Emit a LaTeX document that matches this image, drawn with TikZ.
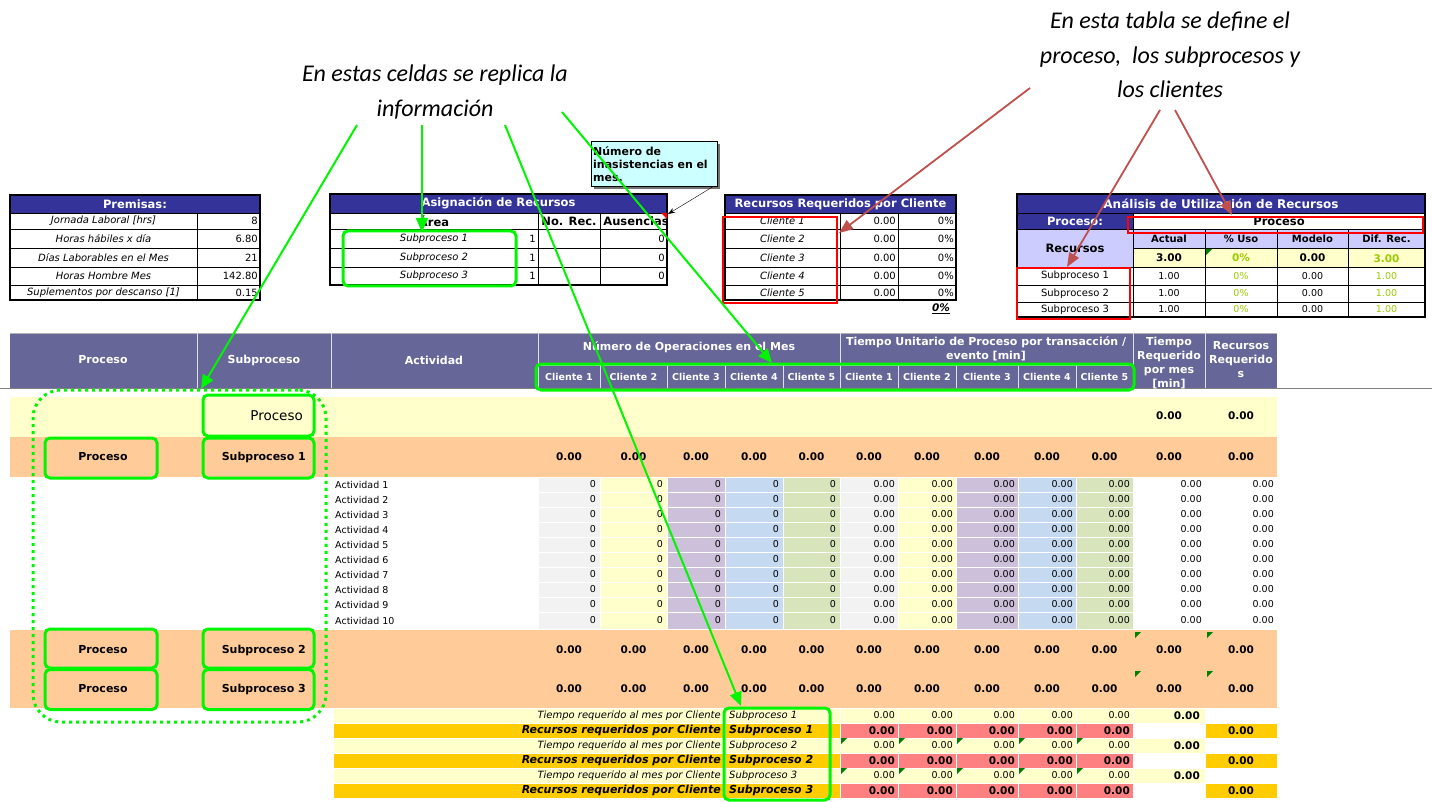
\documentclass[tikz,border=0pt]{standalone}
\usepackage{fontspec}
\setmainfont{DejaVu Sans}
\newfontfamily\calfont{Carlito}
\usetikzlibrary{arrows.meta}
\definecolor{grn}{RGB}{0,245,0}
\definecolor{hdrblue}{RGB}{51,51,153}
\definecolor{hdrpurple}{RGB}{102,102,153}
\definecolor{lyel}{RGB}{255,255,204}
\definecolor{orng}{RGB}{255,204,153}
\definecolor{gold}{RGB}{255,204,0}
\definecolor{pinkr}{RGB}{255,128,128}
\definecolor{cgray}{RGB}{242,242,242}
\definecolor{cpurp}{RGB}{204,192,218}
\definecolor{cblue}{RGB}{197,217,241}
\definecolor{cgreen}{RGB}{216,228,188}
\definecolor{lav}{RGB}{204,204,255}
\definecolor{lgreen}{RGB}{153,204,0}
\definecolor{redarrow}{RGB}{192,80,77}
\definecolor{callout}{RGB}{204,255,255}
\definecolor{cmark}{RGB}{0,128,0}
\begin{document}
\begin{tikzpicture}[x=1pt,y=-1pt,
  txt/.style={font=\fontsize{9.5}{10}\selectfont, inner sep=0pt},
  atx/.style={font=\fontsize{10}{11}\selectfont, inner sep=0pt},
  itx/.style={font=\fontsize{10}{11}\selectfont\itshape, inner sep=0pt},
  bnum/.style={font=\fontsize{10.5}{11}\selectfont\bfseries, inner sep=0pt},
  blab/.style={font=\fontsize{11}{12}\selectfont\bfseries, inner sep=0pt},
  bh/.style={font=\fontsize{10}{11}\selectfont\bfseries, inner sep=0pt},
  bha/.style={font=\fontsize{11.5}{12}\selectfont\bfseries, inner sep=0pt},
  hdr/.style={font=\fontsize{11.5}{12}\selectfont\bfseries, text=white, inner sep=0pt},
  lh/.style={font=\fontsize{11}{14}\selectfont\bfseries, text=white, inner sep=0pt, align=center},
  ch/.style={font=\fontsize{9.5}{10}\selectfont\bfseries, text=white, inner sep=0pt},
  gbox/.style={draw=grn, line width=3pt, rounded corners=5pt, inner sep=0pt},
  rbox/.style={draw=red, line width=2.5pt, inner sep=0pt},
  garrow/.style={draw=grn, line width=2pt, -{Triangle[length=14pt,width=12pt]}},
  rarrow/.style={draw=redarrow, line width=1.8pt, -{Triangle[length=14pt,width=11pt]}},
  note/.style={font=\calfont\itshape\fontsize{24}{34.5}\selectfont, align=center, inner sep=0pt},
  cellw/.style={draw=white, line width=1pt}
]
\useasboundingbox (0,0) rectangle (1432,802);
\fill[white] (0,0) rectangle (1432,802);

%%%%%%%% Premisas
\fill[hdrblue] (10,195) rectangle (260,213);
\node[hdr] at (135,204) {Premisas:};
\foreach \yy in {213,229,248,267,285} \draw[thin] (10,\yy) -- (260,\yy);
\draw[thin] (197,213) -- (197,300);
\draw[line width=1.5pt] (10,195) rectangle (260,300);
\foreach \lab/\val/\yy in {Jornada Laboral [hrs]/8/221, Horas hábiles x día/6.80/238.5, Días Laborables en el Mes/21/257.5, Horas Hombre Mes/142.80/276, Suplementos por descanso [1]/0.15/292.5}
  {\node[itx] at (103.5,\yy) {\lab}; \node[atx,anchor=east] at (258,\yy) {\val};}

%%%%%%%% Asignacion
\fill[hdrblue] (330,194) rectangle (667,213);
\node[hdr] at (498.5,203.5) {Asignación de Recursos};
\foreach \yy in {213,229,248,267} \draw[thin] (330,\yy) -- (667,\yy);
\draw[thin] (538,213) -- (538,285) (600,213) -- (600,285);
\draw[line width=1.5pt] (330,194) rectangle (667,285);
\node[bha] at (434,221) {Área};
\node[bha] at (569,221) {No. Rec.};
\node[bha] at (636,221) {Ausencias};
\foreach \sn/\yy in {1/238.5,2/257.5,3/276}
  {\node[itx] at (434,\yy) {Subproceso \sn}; \node[atx,anchor=east] at (536,\yy) {1}; \node[atx,anchor=east] at (665,\yy) {0};}
\fill[red] (661,213) -- (667,213) -- (667,219) -- cycle;

%%%%%%%% Recursos requeridos por cliente
\fill[hdrblue] (725,195) rectangle (956,213);
\node[hdr] at (840.5,204) {Recursos Requeridos por Cliente};
\foreach \yy in {213,229,248,267,285} \draw[thin] (725,\yy) -- (956,\yy);
\draw[thin] (840,213) -- (840,300) (898,213) -- (898,300);
\draw[line width=1.5pt] (725,195) rectangle (956,300);
\foreach \sn/\yy in {1/221,2/238.5,3/257.5,4/276,5/292.5}
  {\node[itx] at (782.5,\yy) {Cliente \sn}; \node[atx,anchor=east] at (896,\yy) {0.00}; \node[atx,anchor=east] at (954,\yy) {0\%};}
\node[bnum,font=\fontsize{10.5}{11}\selectfont\bfseries\itshape] at (941,309) {\underline{0\%}};

%%%%%%%% Analisis
\fill[hdrblue] (1017,194) rectangle (1425,213);
\node[hdr,font=\fontsize{12}{12}\selectfont\bfseries] at (1221,203.5) {Análisis de Utilización de Recursos};
\fill[hdrblue] (1017,213) rectangle (1133,229);
\node[hdr] at (1075,221) {Proceso:};
\node[bha] at (1279,221) {Proceso};
\fill[lav] (1017,229) rectangle (1133,267);
\node[bha] at (1075,248) {Recursos};
\fill[lav] (1133,229) rectangle (1425,248);
\fill[lyel] (1133,248) rectangle (1425,267);
\foreach \yy in {213,229,267,285,302} \draw[thin] (1017,\yy) -- (1425,\yy);
\draw[thin] (1133,248) -- (1425,248);
\draw[thin] (1133,213) -- (1133,317);
\foreach \xx in {1205,1277,1348} \draw[thin] (\xx,229) -- (\xx,317);
\draw[line width=1.5pt] (1017,194) rectangle (1425,317);
\node[bh] at (1169,238.5) {Actual};
\node[bh] at (1241,238.5) {\% Uso};
\node[bh] at (1312.5,238.5) {Modelo};
\node[bh] at (1386.5,238.5) {Dif. Rec.};
\node[bnum] at (1169,257.5) {3.00};
\node[bnum,text=lgreen] at (1241,257.5) {0\%};
\node[bnum] at (1312.5,257.5) {0.00};
\node[bnum,text=lgreen] at (1386.5,258.5) {3.00};
\fill[cmark] (1206,249) -- (1212,249) -- (1206,255) -- cycle;
\foreach \sn/\yy in {1/276,2/293.5,3/309.5}
  {\node[atx] at (1075,\yy) {Subproceso \sn};
   \node[txt] at (1169,\yy) {1.00};
   \node[txt,text=lgreen] at (1241,\yy) {0\%};
   \node[txt] at (1312.5,\yy) {0.00};
   \node[txt,text=lgreen] at (1386.5,\yy) {1.00};}

%%%%%%%% Lower table header
\fill[hdrpurple] (10,333) rectangle (1277,388);
\draw[gray!60, line width=1pt] (10,333) -- (1277,333);
\begin{scope}[draw=white!80!hdrpurple, line width=0.8pt]
  \foreach \xx in {197,331,538,840,1133,1205} \draw (\xx,333) -- (\xx,388);
  \draw (538,365) -- (1133,365);
  \foreach \xx in {600,667,725,783,898,956,1018,1076} \draw (\xx,365) -- (\xx,388);
\end{scope}
\draw[gray, line width=1.2pt] (0,388.5) -- (1432,388.5);
\node[lh] at (103,360) {Proceso};
\node[lh] at (264,360) {Subproceso};
\node[lh] at (434,360) {Actividad};
\node[lh] at (689,347) {Número de Operaciones en el Mes};
\node[lh] at (986,349) {Tiempo Unitario de Proceso por transacción /\\evento [min]};
\begin{scope}
  \clip (1133,333) rectangle (1205,388);
  \node[lh,anchor=north] at (1169,337) {Tiempo\\Requerido\\por mes\\{[min]}};
\end{scope}
\node[lh] at (1241,360) {Recursos\\Requerido\\s};
\foreach \xx/\sn in {569/1,633.5/2,696/3,754/4,811.5/5,869/1,927/2,987/3,1047/4,1104.5/5}
  \node[ch] at (\xx,377) {Cliente \sn};

%%%%%%%% Proceso / Subproceso 1 rows
\fill[lyel] (10,397) rectangle (1277,437);
\fill[orng] (10,437) rectangle (1277,477);
\node[atx,font=\fontsize{13.5}{14}\selectfont,anchor=east] at (303,416) {Proceso};
\node[bnum] at (1169,416) {0.00};
\node[bnum] at (1241,416) {0.00};
\node[blab] at (103,457) {Proceso};
\node[blab,anchor=east] at (306,457) {Subproceso 1};
\foreach \xx in {569,633.5,696,754,811.5,869,927,987,1047,1104.5,1169,1241}
  \node[bnum] at (\xx,457) {0.00};

%%%%%%%% Activity rows
\foreach \r in {1,...,10} {
  \pgfmathsetmacro\ya{477+15*(\r-1)}
  \pgfmathsetmacro\yb{\r==10 ? 629 : \ya+15}
  \pgfmathsetmacro\ym{(\ya+\yb)/2}
  \node[txt,anchor=west] at (335,\ym) {Actividad \r};
  \foreach \xa/\xb/\cc in {538/600/cgray,600/667/lyel,667/725/cpurp,725/783/cblue,783/840/cgreen}
    {\filldraw[fill=\cc,cellw] (\xa,\ya) rectangle (\xb,\yb);
     \node[txt,anchor=east] at (\xb-4,\ym) {0};}
  \foreach \xa/\xb/\cc in {840/898/cgray,898/956/lyel,956/1018/cpurp,1018/1076/cblue,1076/1133/cgreen}
    {\filldraw[fill=\cc,cellw] (\xa,\ya) rectangle (\xb,\yb);
     \node[txt,anchor=east] at (\xb-3,\ym) {0.00};}
  \node[txt,anchor=east] at (1202,\ym) {0.00};
  \node[txt,anchor=east] at (1274,\ym) {0.00};
}

%%%%%%%% Subproceso 2 / 3 rows
\fill[orng] (10,630) rectangle (1277,708);
\foreach \sn/\yy in {2/650,3/689} {
  \node[blab] at (103,\yy) {Proceso};
  \node[blab,anchor=east] at (306,\yy) {Subproceso \sn};
  \foreach \xx in {569,633.5,696,754,811.5,869,927,987,1047,1104.5,1169,1241}
    \node[bnum] at (\xx,\yy) {0.00};
}
\foreach \xx/\yy in {1135/632,1207/632,1135/671,1207/671}
  \fill[cmark] (\xx,\yy) -- ++(6,0) -- ++(-6,6) -- cycle;

%%%%%%%% Bottom summary rows
\foreach \r/\sn in {0/1,1/2,2/3} {
  \pgfmathsetmacro\ya{708+30*\r}
  \pgfmathsetmacro\yb{\ya+15}
  \pgfmathsetmacro\yc{\ya+30}
  \pgfmathsetmacro\ym{\ya+7.5}
  \pgfmathsetmacro\yn{\yb+7.5}
  \filldraw[fill=lyel,cellw] (333,\ya) rectangle (725,\yb);
  \filldraw[fill=lyel,cellw] (725,\ya) rectangle (840,\yb);
  \filldraw[fill=gold,cellw] (333,\yb) rectangle (725,\yc);
  \filldraw[fill=gold,cellw] (725,\yb) rectangle (840,\yc);
  \node[itx,anchor=east] at (721,\ym) {Tiempo requerido al mes por Cliente};
  \node[itx,anchor=west] at (729,\ym) {Subproceso \sn};
  \node[bnum,font=\fontsize{11}{11}\selectfont\bfseries\itshape,anchor=east] at (721,\yn) {Recursos requeridos por Cliente};
  \node[bnum,font=\fontsize{11}{11}\selectfont\bfseries\itshape,anchor=west] at (729,\yn) {Subproceso \sn};
  \foreach \xa/\xb in {840/898,898/956,956/1018,1018/1076,1076/1133} {
    \filldraw[fill=lyel,cellw] (\xa,\ya) rectangle (\xb,\yb);
    \node[txt,anchor=east] at (\xb-3,\ym) {0.00};
    \filldraw[fill=pinkr,cellw] (\xa,\yb) rectangle (\xb,\yc);
    \node[bnum,anchor=east] at (\xb-3,\yn) {0.00};
  }
  \filldraw[fill=lyel,cellw] (1133,\ya) rectangle (1205,\yb);
  \node[bnum,anchor=east] at (1200,\ym) {0.00};
  \filldraw[fill=gold,cellw] (1205,\yb) rectangle (1277,\yc);
  \node[bnum] at (1241,\yn) {0.00};
}
\foreach \yy in {738,768}
  \foreach \xx in {841,899,957,1019,1077}
    \fill[cmark] (\xx,\yy) -- ++(6,0) -- ++(-6,6) -- cycle;

%%%%%%%% Green highlight boxes
\node[gbox, minimum width=173, minimum height=55] (gAsig) at (429.5,258.5) {};
\node[gbox, minimum width=598, minimum height=26] (gCli) at (835,377) {};
\node[gbox, minimum width=111, minimum height=41] (gProcY) at (258.5,415.5) {};
\node[gbox, minimum width=111, minimum height=40] (gSub1) at (258.5,458) {};
\node[gbox, minimum width=112, minimum height=40] (gProc1) at (101,458) {};
\node[gbox, minimum width=112, minimum height=39] (gProc2) at (101,648.5) {};
\node[gbox, minimum width=111, minimum height=39] (gSub2) at (258.5,648.5) {};
\node[gbox, minimum width=112, minimum height=40] (gProc3) at (101,689.5) {};
\node[gbox, minimum width=111, minimum height=40] (gSub3) at (258.5,689.5) {};
\node[gbox, minimum width=106, minimum height=92] (gBot) at (777,754) {};
\node[draw=grn, line width=3pt, dash pattern=on 3pt off 4pt, rounded corners=28pt,
      minimum width=293, minimum height=332, inner sep=0pt] (gDots) at (179.5,556) {};

%%%%%%%% Red highlight boxes
\node[rbox, minimum width=114, minimum height=86] (rCli) at (780,260) {};
\node[rbox, minimum width=295, minimum height=16] (rProc) at (1275.5,225) {};
\node[rbox, minimum width=113, minimum height=51] (rSub) at (1073.5,293.5) {};

%%%%%%%% Callout box
\fill[black!55] (594,144) rectangle (720,189);
\node[draw=black, fill=callout, anchor=north west, minimum width=126, minimum height=45,
      text width=122pt, align=left, inner sep=2pt, font=\fontsize{11}{13}\selectfont\bfseries] (cb)
      at (591,141) {Número de\\inasistencias en el\\mes.};
\coordinate (cbTip) at (668,214);
\draw[thin, -{Stealth[length=7pt,width=5pt]}] ([xshift=-4pt]cb.south east) -- (cbTip);

%%%%%%%% Notes
\node[note] (nRight) at (1170,55) {En esta tabla se define el\\proceso,~ los subprocesos y\\los clientes};
\node[note] (nLeft) at (435,92) {En estas celdas se replica la\\información};

%%%%%%%% Red arrows
\coordinate (ra1s) at (1030,88);
\coordinate (ra1e) at (839,233);
\coordinate (ra2s) at (1160,110);
\coordinate (ra2e) at (1067,267);
\coordinate (ra3s) at (1175,110);
\coordinate (ra3e) at (1232,215);
\draw[rarrow] (ra1s) -- (ra1e);
\draw[rarrow] (ra2s) -- (ra2e);
\draw[rarrow] (ra3s) -- (ra3e);

%%%%%%%% Green arrows
\coordinate (ga1s) at (357,125);
\coordinate (ga1e) at (201,389);
\coordinate (ga2s) at (422,125);
\coordinate (ga2e) at (422,232);
\coordinate (ga3s) at (505,125);
\coordinate (ga3e) at (741,706);
\coordinate (ga4s) at (562,112);
\coordinate (ga4e) at (772,363);
\draw[garrow] (ga1s) -- (ga1e);
\draw[garrow] (ga2s) -- (ga2e);
\draw[garrow] (ga3s) -- (ga3e);
\draw[garrow] (ga4s) -- (ga4e);
\end{tikzpicture}
\end{document}
